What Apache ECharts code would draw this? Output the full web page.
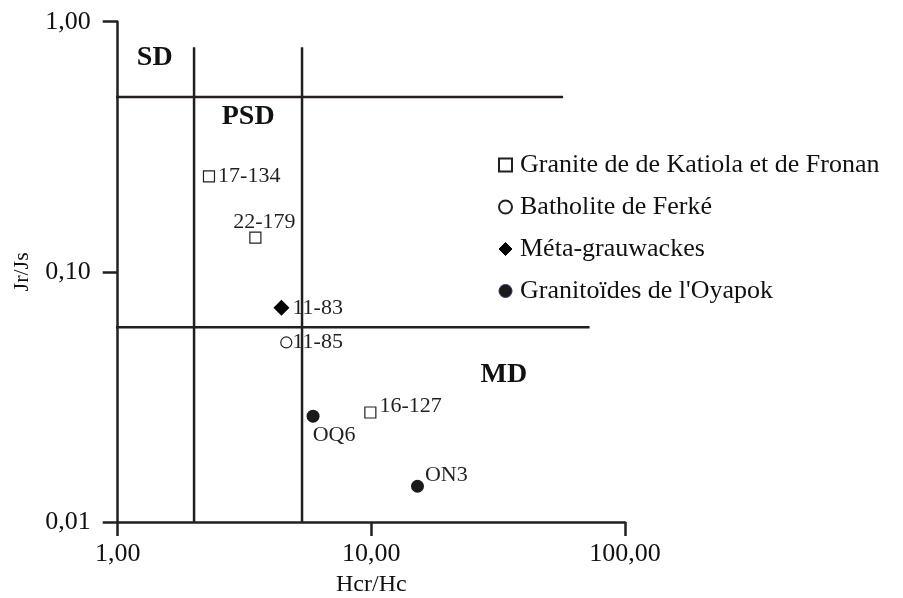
<!DOCTYPE html>
<html>
<head>
<meta charset="utf-8">
<script src="https://cdn.jsdelivr.net/npm/echarts@6/dist/echarts.min.js"></script>
<style>
  html, body { margin: 0; padding: 0; background: #fff; }
  #chart { width: 903px; height: 598px; }
</style>
</head>
<body>
<div id="chart"></div>
<script>
// Day plot: Jr/Js versus Hcr/Hc, both on log scales
const xTicks = [1, 10, 100];
const yTicks = [0.01, 0.1, 1];

// Granite de de Katiola et de Fronan
const graniteNames = ['17-134', '22-179', '16-127'];
const graniteHcr = [2.29, 3.49, 9.91];
const graniteJr = [0.241, 0.137, 0.0274];

// Batholite de Ferké
const fercheNames = ['11-85'];
const fercheHcr = [4.62];
const fercheJr = [0.0522];

// Méta-grauwackes
const metaNames = ['11-83'];
const metaHcr = [4.42];
const metaJr = [0.0718];

// Granitoïdes de l'Oyapok
const oyaNames = ['OQ6', 'ON3'];
const oyaHcr = [5.89, 15.2];
const oyaJr = [0.0265, 0.0139];

// Domain boundaries (SD / PSD / MD)
const boundHcr = [2, 5.33];
const boundJr = [0.5, 0.06];
const boundJrTop = 0.79;
const boundHcrStart = 0.94;
const boundHcrEnd = [57, 72.5];

// Domain names and where they sit
const domainNames = ['SD', 'PSD', 'MD'];
const domainHcr = [1.40, 3.27, 33.3];
const domainJr = [0.716, 0.416, 0.0387];

const legendNames = ['Granite de de Katiola et de Fronan', 'Batholite de Ferké', 'Méta-grauwackes', "Granitoïdes de l'Oyapok"];

const INK = '#231f20';
const FONT = '"Liberation Serif", "DejaVu Serif", serif';

function pts(xs, ys, names) {
  return xs.map((x, i) => ({ value: [x, ys[i]], name: names[i] }));
}
const fmt = v => Number(v).toFixed(2).replace('.', ',');

// per-point label placement
const labelPlace = {
  '17-134': { position: 'right', distance: 3 },
  '22-179': { position: 'top', distance: 0, offset: [9, 2] },
  '16-127': { position: 'right', distance: 3, offset: [0, -6] },
  '11-85': { position: 'right', distance: 0 },
  '11-83': { position: 'right', distance: 3 },
  'OQ6': { position: 'bottom', distance: 2, offset: [21, 0] },
  'ON3': { position: 'right', distance: 1, offset: [0, -11] }
};
function withLabels(items) {
  return items.map(d => Object.assign(d, { label: labelPlace[d.name] }));
}
const pointLabel = { show: true, formatter: p => p.name, color: INK, fontFamily: FONT, fontSize: 22 };

const lineStyle = { color: INK, width: 2.5 };
function segment(a, b) {
  return {
    type: 'line', data: [a, b], symbol: 'none', clip: false, silent: true,
    lineStyle: lineStyle, z: 1
  };
}

const chart = echarts.init(document.getElementById('chart'), null, { renderer: 'canvas' });
chart.setOption({
  animation: false,
  backgroundColor: '#fff',
  grid: { left: 117.7, right: 903 - 625, top: 21.7, bottom: 598 - 522, outerBoundsMode: 'none', containLabel: false },
  legend: {
    orient: 'vertical', left: 493, top: 147, itemGap: 16,
    itemWidth: 13, itemHeight: 13,
    data: [
      { name: legendNames[0] },
      { name: legendNames[1] },
      { name: legendNames[2], itemStyle: { borderColor: '#000', borderWidth: 1 } },
      { name: legendNames[3], itemStyle: { borderColor: '#2d2f6e', borderWidth: 1 } }
    ],
    textStyle: { color: '#111', fontFamily: FONT, fontSize: 26, padding: [0, 0, 0, 3] },
    selectedMode: false
  },
  xAxis: {
    type: 'log', logBase: 10, min: xTicks[0], max: xTicks[xTicks.length - 1],
    name: 'Hcr/Hc', nameLocation: 'middle', nameGap: 51,
    nameTextStyle: { color: '#111', fontFamily: FONT, fontSize: 24 },
    axisLine: { lineStyle: { color: INK, width: 2.5 } },
    axisTick: { length: 14, lineStyle: { color: INK, width: 2.5 } },
    minorTick: { show: false },
    axisLabel: { formatter: fmt, color: '#111', fontFamily: FONT, fontSize: 26, margin: 19 },
    splitLine: { show: false }
  },
  yAxis: {
    type: 'log', logBase: 10, min: yTicks[0], max: yTicks[yTicks.length - 1],
    name: 'Jr/Js', nameLocation: 'middle', nameGap: 84,
    nameTextStyle: { color: '#111', fontFamily: FONT, fontSize: 22 },
    axisLine: { lineStyle: { color: INK, width: 2.5 } },
    axisTick: { length: 15, lineStyle: { color: INK, width: 2.5 } },
    minorTick: { show: false },
    axisLabel: { formatter: fmt, color: '#111', fontFamily: FONT, fontSize: 26, margin: 27 },
    splitLine: { show: false }
  },
  series: [
    segment([boundHcr[0], yTicks[0]], [boundHcr[0], boundJrTop]),
    segment([boundHcr[1], yTicks[0]], [boundHcr[1], boundJrTop]),
    segment([boundHcrStart, boundJr[0]], [boundHcrEnd[0], boundJr[0]]),
    segment([boundHcrStart, boundJr[1]], [boundHcrEnd[1], boundJr[1]]),
    {
      type: 'scatter', silent: true, symbolSize: 0, z: 3,
      itemStyle: { opacity: 1 },
      data: domainHcr.map((x, i) => ({ value: [x, domainJr[i]], name: domainNames[i] })),
      label: { show: true, position: 'inside', formatter: p => p.name, color: '#111', fontFamily: FONT, fontSize: 28, fontWeight: 'bold' }
    },
    {
      name: legendNames[0], type: 'scatter', symbol: 'rect', symbolSize: 11, z: 5,
      itemStyle: { color: '#fff', borderColor: INK, borderWidth: 1.2, opacity: 1 },
      data: withLabels(pts(graniteHcr, graniteJr, graniteNames)), label: pointLabel
    },
    {
      name: legendNames[1], type: 'scatter', symbol: 'circle', symbolSize: 11, z: 5,
      itemStyle: { color: '#fff', borderColor: INK, borderWidth: 1.2, opacity: 1 },
      data: withLabels(pts(fercheHcr, fercheJr, fercheNames)), label: pointLabel
    },
    {
      name: legendNames[2], type: 'scatter', symbol: 'diamond', symbolSize: 16, z: 5,
      itemStyle: { color: '#000', opacity: 1 },
      data: withLabels(pts(metaHcr, metaJr, metaNames)), label: pointLabel
    },
    {
      name: legendNames[3], type: 'scatter', symbol: 'circle', symbolSize: 13, z: 5,
      itemStyle: { color: '#1a1a1a', opacity: 1 },
      data: withLabels(pts(oyaHcr, oyaJr, oyaNames)), label: pointLabel
    }
  ]
});
</script>
</body>
</html>
